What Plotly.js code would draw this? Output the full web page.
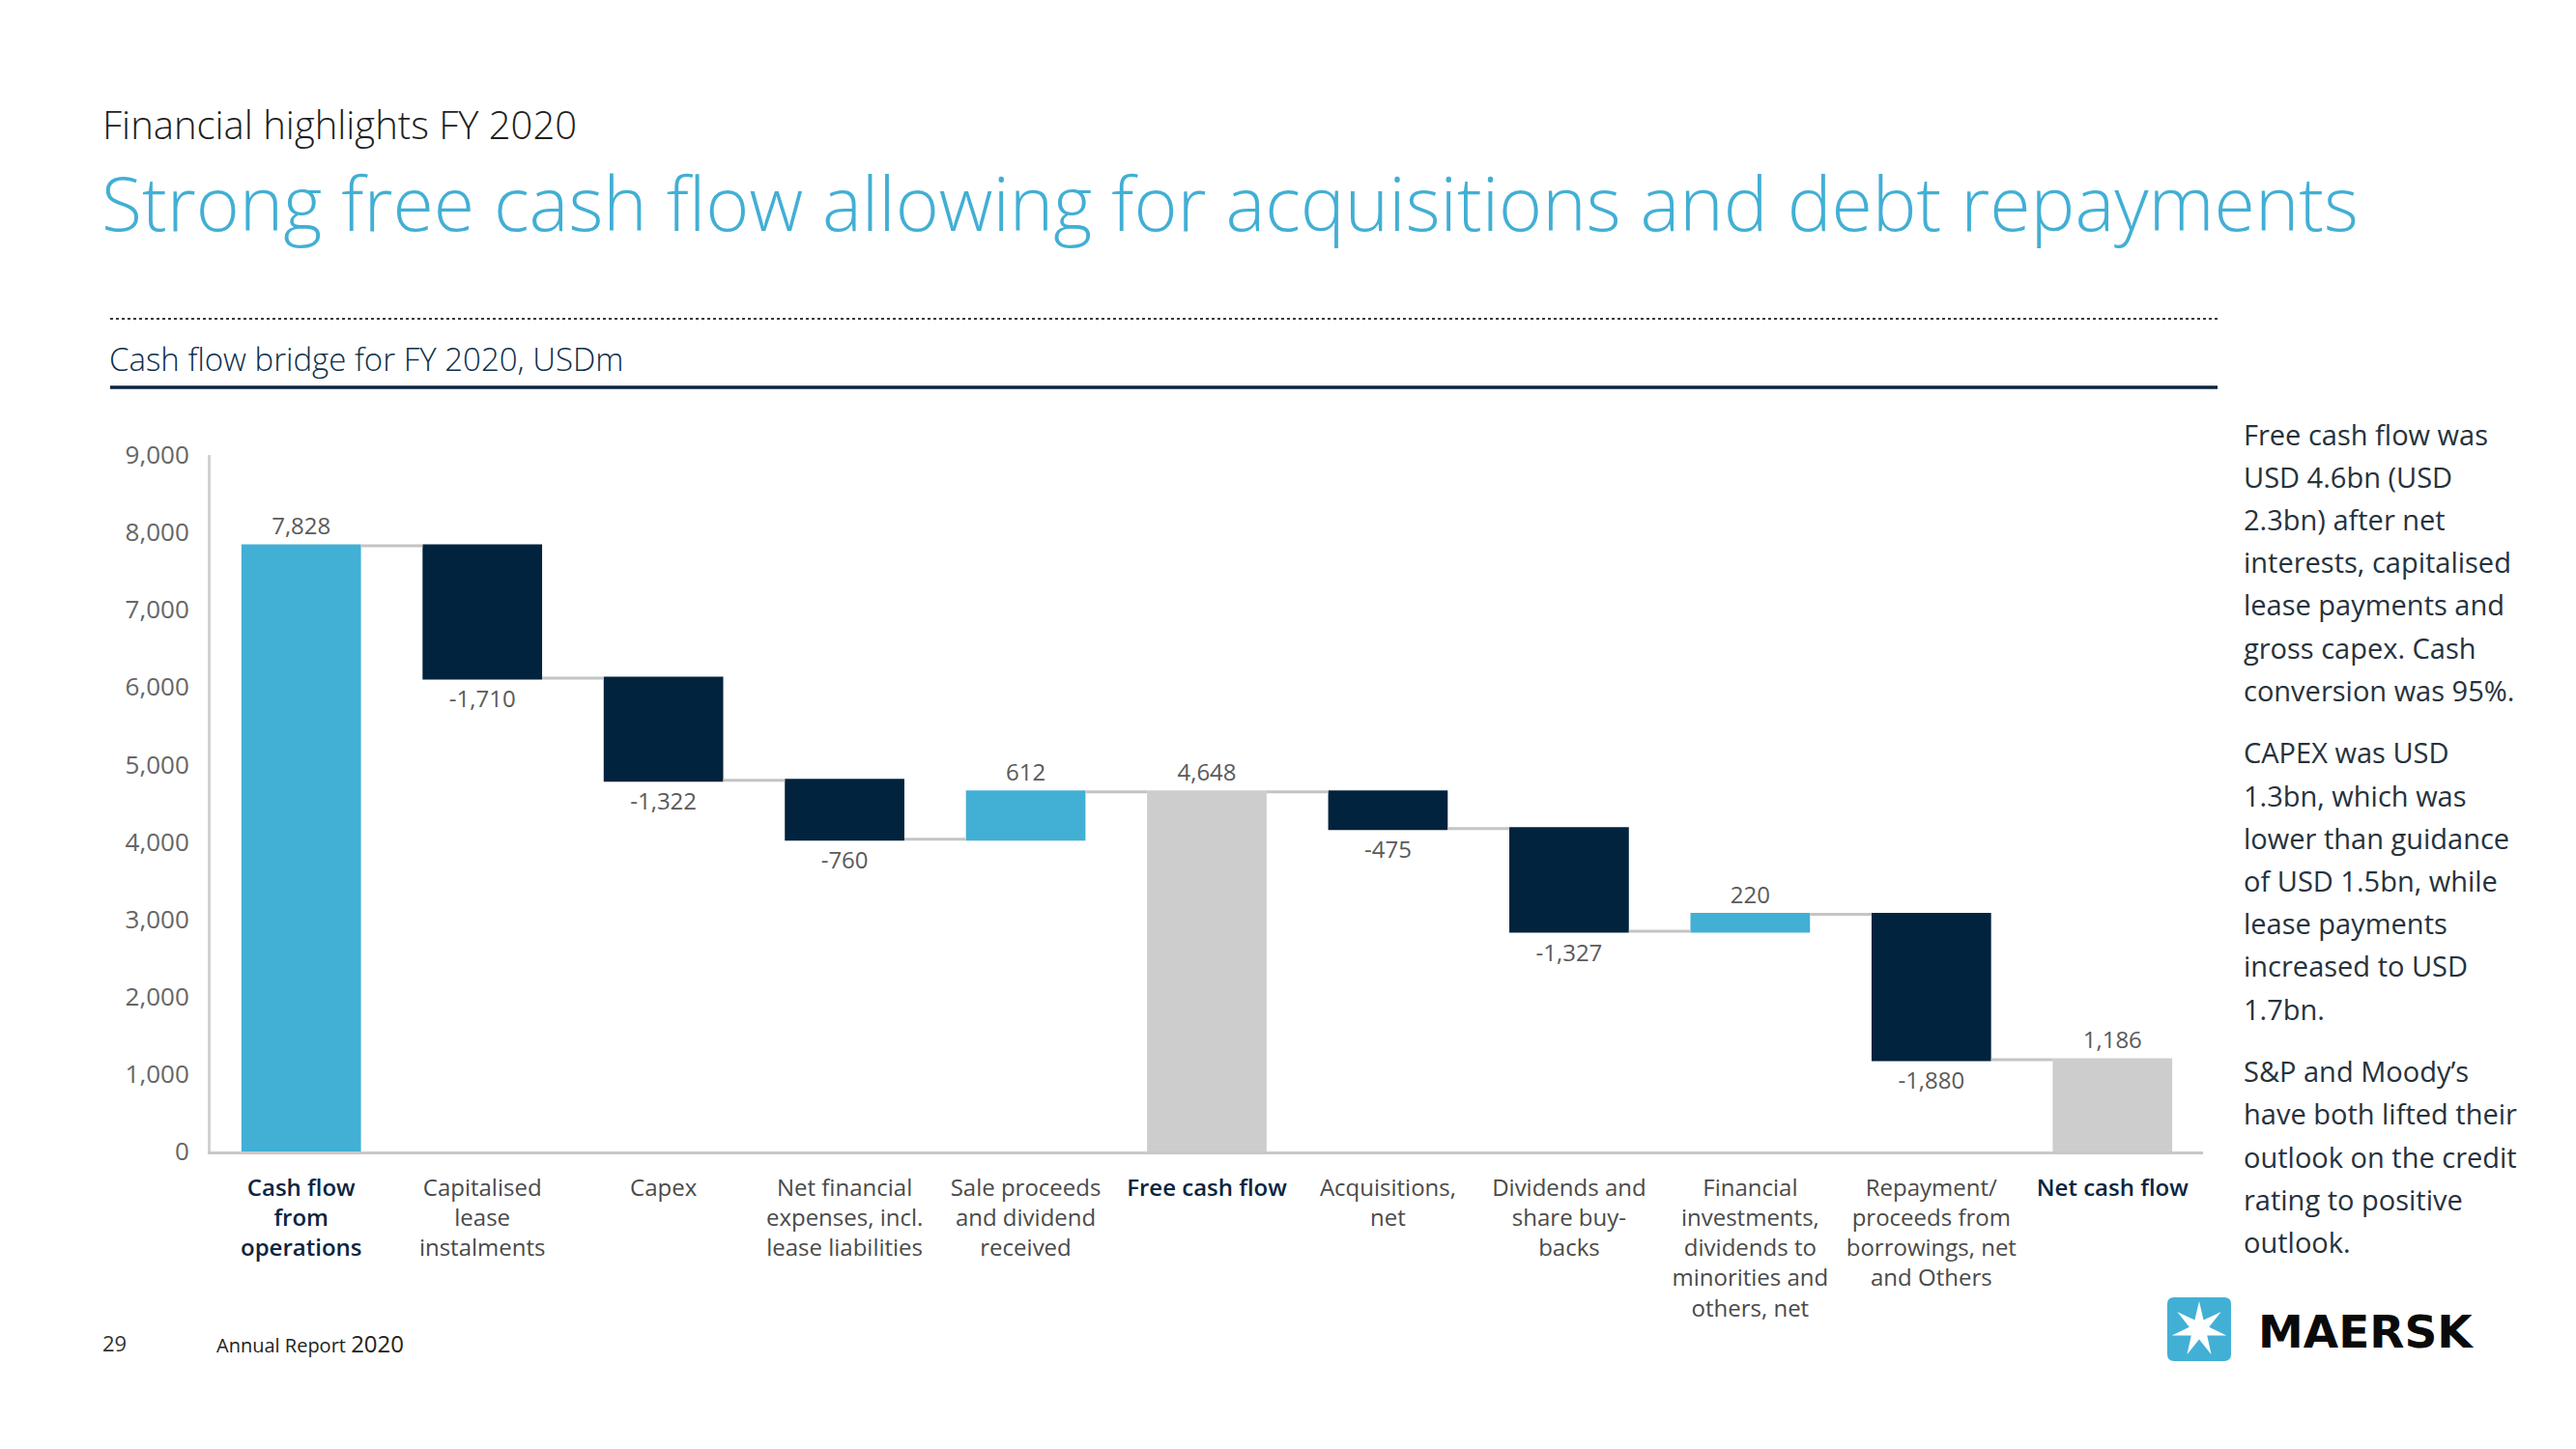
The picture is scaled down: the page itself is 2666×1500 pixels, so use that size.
<!DOCTYPE html>
<html>
<head>
<meta charset="utf-8">
<script src="https://cdn.plot.ly/plotly-3.0.1.min.js"></script>
<style>
  html, body { margin: 0; padding: 0; background: #ffffff; }
  #chart { width: 2666px; height: 1500px; }
</style>
</head>
<body>
<div id="chart"></div>
<script>
// ---------------- DATA ----------------
var categories = [
  "Cash flow from operations",
  "Capitalised lease instalments",
  "Capex",
  "Net financial expenses, incl. lease liabilities",
  "Sale proceeds and dividend received",
  "Free cash flow",
  "Acquisitions, net",
  "Dividends and share buy-backs",
  "Financial investments, dividends to minorities and others, net",
  "Repayment/ proceeds from borrowings, net and Others",
  "Net cash flow"
];
var tickLabels = [
  "Cash flow<br>from<br>operations",
  "Capitalised<br>lease<br>instalments",
  "Capex",
  "Net financial<br>expenses, incl.<br>lease liabilities",
  "Sale proceeds<br>and dividend<br>received",
  "Free cash flow",
  "Acquisitions,<br>net",
  "Dividends and<br>share buy-<br>backs",
  "Financial<br>investments,<br>dividends to<br>minorities and<br>others, net",
  "Repayment/<br>proceeds from<br>borrowings, net<br>and Others",
  "Net cash flow"
];
var values   = [7828, -1710, -1322, -760, 612, 4648, -475, -1327, 220, -1880, 1186];
var measures = ["relative", "relative", "relative", "relative", "relative", "total",
                "relative", "relative", "relative", "relative", "total"];
var boldCategories = [true, false, false, false, false, true, false, false, false, false, true];

var supertitle = "Financial highlights FY 2020";
var headline = "Strong free cash flow allowing for acquisitions and debt repayments";
var chartTitle = "Cash flow bridge for FY 2020, USDm";
var sideParagraphs = [
  ["Free cash flow was", "USD 4.6bn (USD", "2.3bn) after net", "interests, capitalised",
   "lease payments and", "gross capex. Cash", "conversion was 95%."],
  ["CAPEX was USD", "1.3bn, which was", "lower than guidance", "of USD 1.5bn, while",
   "lease payments", "increased to USD", "1.7bn."],
  ["S&amp;P and Moody’s", "have both lifted their", "outlook on the credit",
   "rating to positive", "outlook."]
];
var pageNumber = "29";
var footerText = "Annual Report";
var footerYear = "2020";
var brand = "MAERSK";

// ---------------- STYLE ----------------
var W = 2666, H = 1500;
var M = { l: 218, r: 386, t: 471, b: 308 };
var plotW = W - M.l - M.r, plotH = H - M.t - M.b;
function px(x) { return (x - M.l) / plotW; }
function py(y) { return (H - M.b - y) / plotH; }

var blue = "#42afd4", navy = "#02233d", grey = "#cdcdcd";
var textGrey = "#5a5a5a";
var font = "Open Sans, Noto Sans, sans-serif";

function fmt(v) {
  var s = Math.abs(v).toString().replace(/\B(?=(\d{3})+(?!\d))/g, ",");
  return (v < 0 ? "-" : "") + s;
}

var ticktext = tickLabels.map(function (t, i) {
  return boldCategories[i]
    ? '<span style="color:#0b2540;font-weight:600">' + t + '</span>'
    : t;
});

var trace = {
  type: "waterfall",
  x: categories,
  y: values,
  measure: measures,
  text: values.map(fmt),
  textinfo: "text",
  textposition: "outside",
  textfont: { family: font, size: 24, color: textGrey },
  cliponaxis: false,
  increasing: { marker: { color: blue } },
  decreasing: { marker: { color: navy } },
  totals: { marker: { color: grey } },
  connector: { mode: "between", line: { color: "#c4c4c4", width: 3 } },
  hoverinfo: "skip"
};

var annotations = [];
function ann(text, x, y, opt) {
  var a = {
    text: text, xref: "paper", yref: "paper", x: px(x), y: py(y),
    xanchor: "left", yanchor: "middle", showarrow: false,
    font: { family: font, size: 27, color: "#222" }
  };
  for (var k in opt) a[k] = opt[k];
  annotations.push(a);
}

ann(supertitle, 104, 128, { font: { family: font, size: 40, color: "#1e1e1e", weight: 300 } });
ann(headline, 103, 210, { font: { family: font, size: 77, color: "#42afd4", weight: 300 } });
ann(chartTitle, 111, 371, { font: { family: font, size: 33, color: "#0e2f4a", weight: 300 } });

// side commentary
var lineY = 449, lineStep = 44.2, paraGap = 20.4;
sideParagraphs.forEach(function (para) {
  para.forEach(function (line) {
    ann(line, 2320, lineY, { font: { family: font, size: 29, color: "#26323d" } });
    lineY += lineStep;
  });
  lineY += paraGap;
});

// footer
ann(pageNumber, 104, 1390, { font: { family: font, size: 22, color: "#333" } });
ann(footerText + ' <span style="font-size:24px">' + footerYear + '</span>', 222, 1390,
    { font: { family: font, size: 20, color: "#222" } });
ann("<b>" + brand + "</b>", 2335, 1378,
    { font: { family: "DejaVu Sans, sans-serif", size: 47, color: "#0a0a0a" } });

// logo shapes (decoration)
var r = 33, c = 7;
var boxPath = "M " + (-r + c) + "," + (-r) + " L " + (r - c) + "," + (-r) +
  " Q " + r + "," + (-r) + " " + r + "," + (-r + c) +
  " L " + r + "," + (r - c) + " Q " + r + "," + r + " " + (r - c) + "," + r +
  " L " + (-r + c) + "," + r + " Q " + (-r) + "," + r + " " + (-r) + "," + (r - c) +
  " L " + (-r) + "," + (-r + c) + " Q " + (-r) + "," + (-r) + " " + (-r + c) + "," + (-r) + " Z";
var starPts = [];
for (var k = 0; k < 14; k++) {
  var ang = Math.PI / 2 + k * Math.PI / 7;
  var rad = (k % 2 === 0) ? 29 : 10.5;
  starPts.push((rad * Math.cos(ang)).toFixed(2) + "," + (rad * Math.sin(ang)).toFixed(2));
}
var starPath = "M " + starPts.join(" L ") + " Z";

var shapes = [
  { type: "line", xref: "paper", yref: "paper", x0: px(114), x1: px(2295), y0: py(330), y1: py(330),
    line: { color: "#3a3a3a", width: 2, dash: "dot" } },
  { type: "line", xref: "paper", yref: "paper", x0: px(114), x1: px(2295), y0: py(401), y1: py(401),
    line: { color: "#0b2540", width: 3.5 } },
  { type: "path", xref: "paper", yref: "paper", xsizemode: "pixel", ysizemode: "pixel",
    xanchor: px(2276), yanchor: py(1376), path: boxPath,
    fillcolor: "#42b0d5", line: { width: 0 } },
  { type: "path", xref: "paper", yref: "paper", xsizemode: "pixel", ysizemode: "pixel",
    xanchor: px(2276), yanchor: py(1376), path: starPath,
    fillcolor: "#ffffff", line: { width: 0 } }
];

var layout = {
  width: W, height: H,
  margin: M,
  paper_bgcolor: "#ffffff", plot_bgcolor: "#ffffff",
  showlegend: false,
  font: { family: font, color: textGrey },
  waterfallgap: 0.34,
  xaxis: {
    type: "category",
    tickvals: categories, ticktext: ticktext,
    tickfont: { family: font, size: 24, color: "#4a4a4a" },
    showline: true, linecolor: "#c8c8c8", linewidth: 3,
    showgrid: false, zeroline: false, ticks: "",
    ticklabelstandoff: 14, fixedrange: true
  },
  yaxis: {
    range: [0, 9000], dtick: 1000, tickformat: ",",
    tickfont: { family: font, size: 26, color: "#666" },
    showline: true, linecolor: "#d2d2d2", linewidth: 3,
    showgrid: false, zeroline: false, ticks: "",
    ticklabelstandoff: 14, fixedrange: true
  },
  annotations: annotations,
  shapes: shapes
};

Plotly.newPlot("chart", [trace], layout, { displayModeBar: false, staticPlot: true });
</script>
</body>
</html>
